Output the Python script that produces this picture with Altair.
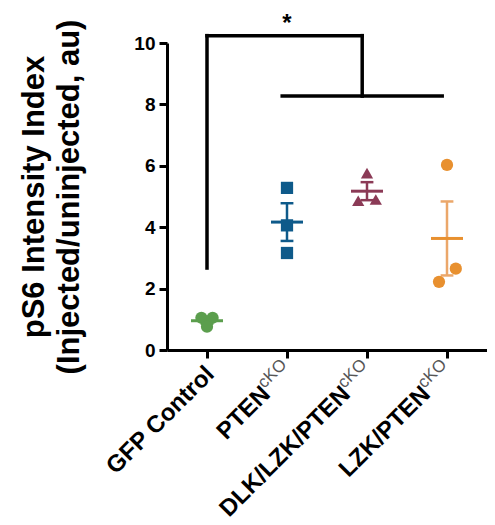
import altair as alt
import pandas as pd
import numpy as np

# ---- data ----
groups = ["GFP Control", "PTEN", "DLK/LZK/PTEN", "LZK/PTEN"]
superscripts = ["", "cKO", "cKO", "cKO"]
positions = [0, 1, 2, 3]
point_colors = ["#5B9E4D", "#0E5A8A", "#8B3A56", "#E8902F"]
bar_colors = ["#5B9E4D", "#0E5A8A", "#8B3A56", "#EBA76A"]
mean_colors = ["#5B9E4D", "#0E5A8A", "#8B3A56", "#E8902F"]
shapes = ["circle", "square", "triangle-up", "circle"]

gfp_vals = [1.05, 1.05, 0.76]
pten_vals = [5.28, 4.06, 3.16]
dlk_vals = [5.76, 4.86, 4.90]
lzk_vals = [6.03, 2.65, 2.22]

gfp_jit = [-0.07, 0.07, 0.0]
pten_jit = [0.0, 0.0, 0.0]
dlk_jit = [0.0, -0.11, 0.11]
lzk_jit = [0.0, 0.11, -0.10]

y_ticks = [0, 2, 4, 6, 8, 10]

# significance bracket segments (data units)
br_x = [0.0, 0.0, 1.94, 0.94]
br_x2 = [0.0, 1.94, 1.94, 2.94]
br_y = [2.67, 10.24, 10.24, 8.27]
br_y2 = [10.24, 10.24, 8.27, 8.27]
star_x = [1.0]
star_y = [11.02]
star_text = ["*"]

FONT = "Liberation Sans"

# ---- tables ----
all_vals = [gfp_vals, pten_vals, dlk_vals, lzk_vals]
all_jit = [gfp_jit, pten_jit, dlk_jit, lzk_jit]
rows = []
for g, p, vals, jits in zip(groups, positions, all_vals, all_jit):
    for v, j in zip(vals, jits):
        rows.append({"group": g, "xpos": p + j, "value": v})
pts = pd.DataFrame(rows)

stat_rows = []
for g, p, vals, bc, mc in zip(groups, positions, all_vals, bar_colors, mean_colors):
    a = np.array(vals)
    m = a.mean()
    s = a.std(ddof=1) / np.sqrt(len(a))
    stat_rows.append({"group": g, "pos": p, "mean": m, "lo": m - s, "hi": m + s,
                      "ml": p - 0.2, "mr": p + 0.2, "cl": p - 0.08, "cr": p + 0.08,
                      "bc": bc, "mc": mc})
stats = pd.DataFrame(stat_rows)

labels = pd.DataFrame({"pos": positions, "main": groups, "sup": superscripts})
bracket = pd.DataFrame({"x": br_x, "x2": br_x2, "y": br_y, "y2": br_y2})
star = pd.DataFrame({"x": star_x, "y": star_y, "t": star_text})

xscale = alt.Scale(domain=[-0.5, 3.5], nice=False, zero=False)
yscale = alt.Scale(domain=[0, 10], nice=False)

x_axis = alt.Axis(values=positions, labels=False, title=None, grid=False,
                  domainWidth=3, domainColor="black", tickWidth=3, tickSize=8,
                  tickColor="black")
y_axis = alt.Axis(values=y_ticks, grid=False, domainWidth=3, domainColor="black",
                  tickWidth=3, tickSize=8, tickColor="black",
                  labelFont=FONT, labelFontSize=19, labelFontWeight="bold",
                  labelColor="black", labelPadding=4,
                  title=["pS6 Intensity Index", "(Injected/uninjected, au)"],
                  titleFont=FONT, titleFontSize=31, titleFontWeight="bold",
                  titleColor="black", titleAngle=270, titleX=-117, titleY=153.5,
                  titleBaseline="bottom", titleAlign="center", titleLineHeight=35)

points = alt.Chart(pts).mark_point(filled=True, opacity=1, size=150).encode(
    x=alt.X("xpos:Q", scale=xscale, axis=x_axis),
    y=alt.Y("value:Q", scale=yscale, axis=y_axis),
    color=alt.Color("group:N", scale=alt.Scale(domain=groups, range=point_colors), legend=None),
    shape=alt.Shape("group:N", scale=alt.Scale(domain=groups, range=shapes), legend=None),
)

vbar = alt.Chart(stats).mark_rule(strokeWidth=2.5).encode(
    x=alt.X("pos:Q"), y=alt.Y("lo:Q"), y2="hi:Q",
    color=alt.Color("bc:N", scale=None))
cap_hi = alt.Chart(stats).mark_rule(strokeWidth=2.5).encode(
    x=alt.X("cl:Q"), x2="cr:Q", y=alt.Y("hi:Q"),
    color=alt.Color("bc:N", scale=None))
cap_lo = alt.Chart(stats).mark_rule(strokeWidth=2.5).encode(
    x=alt.X("cl:Q"), x2="cr:Q", y=alt.Y("lo:Q"),
    color=alt.Color("bc:N", scale=None))
mean_line = alt.Chart(stats).mark_rule(strokeWidth=3).encode(
    x=alt.X("ml:Q"), x2="mr:Q", y=alt.Y("mean:Q"),
    color=alt.Color("mc:N", scale=None))

brackets = alt.Chart(bracket).mark_rule(strokeWidth=3.5, color="black", strokeCap="square").encode(
    x=alt.X("x:Q"), x2="x2:Q", y=alt.Y("y:Q"), y2="y2:Q")

star_mark = alt.Chart(star).mark_text(font=FONT, fontSize=24, fontWeight="bold",
                                      color="black", baseline="top").encode(
    x=alt.X("x:Q"), y=alt.Y("y:Q"), text="t:N")

lab_plain = alt.Chart(labels).transform_filter("datum.sup == ''").mark_text(
    font=FONT, fontSize=24, fontWeight="bold", color="black", angle=315,
    align="right", baseline="alphabetic", dx=7, dy=5).encode(
    x=alt.X("pos:Q"), y=alt.value(334), text="main:N")
lab_main = alt.Chart(labels).transform_filter("datum.sup != ''").mark_text(
    font=FONT, fontSize=24, fontWeight="bold", color="black", angle=315,
    align="right", baseline="alphabetic", dx=-24, dy=2).encode(
    x=alt.X("pos:Q"), y=alt.value(334), text="main:N")
lab_sup = alt.Chart(labels).transform_filter("datum.sup != ''").mark_text(
    font=FONT, fontSize=17, fontWeight="normal", color="#555555", angle=315,
    align="right", baseline="alphabetic", dx=8.5, dy=-7.5).encode(
    x=alt.X("pos:Q"), y=alt.value(334), text="sup:N")

chart = alt.layer(
    vbar, cap_hi, cap_lo, mean_line, points, brackets, star_mark,
    lab_plain, lab_main, lab_sup
).properties(
    width=320, height=307,
    padding={"left": 159, "top": 35, "right": 0, "bottom": 175},
    autosize=alt.AutoSizeParams(type="none"),
).configure_view(stroke=None).configure_axis(grid=False)

chart.save("out.html", embed_options={"renderer": "svg", "actions": False})
